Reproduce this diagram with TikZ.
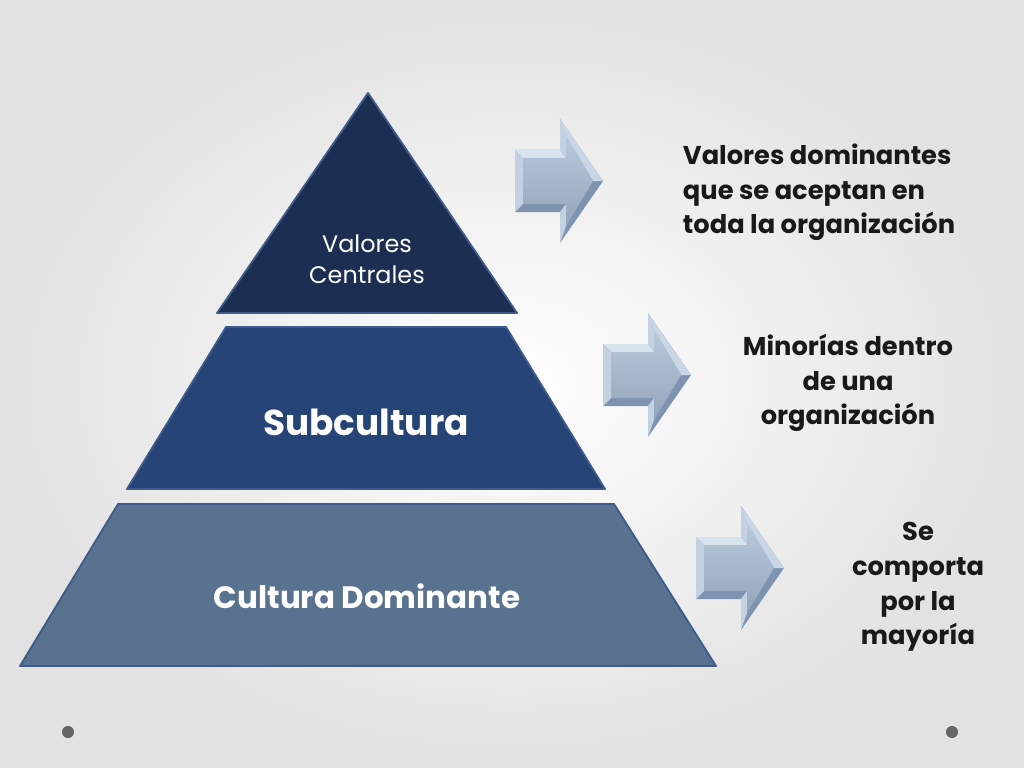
\documentclass[tikz,border=0pt]{standalone}
\usepackage{fontspec}
\setmainfont{Poppins}
\usepackage{tikz}

\definecolor{bggray}{HTML}{E2E2E2}
\definecolor{apexblue}{HTML}{1C2F52}
\definecolor{midblue}{HTML}{264476}
\definecolor{baseblue}{HTML}{58728F}
\definecolor{tierline}{HTML}{3E5B8C}
\definecolor{arrowface}{HTML}{A3B7D0}
\definecolor{arrowlight}{HTML}{D9E3EE}
\definecolor{arrowside}{HTML}{C3D1E2}
\definecolor{arrowdark}{HTML}{7D93AF}
\definecolor{dotgray}{HTML}{666666}

\begin{document}
\begin{tikzpicture}[x=0.025cm, y=-0.025cm,
	tier/.style={draw=tierline, line width=1.3pt, line join=round},
	sidetext/.style={font=\bfseries\fontsize{18.3}{24.6}\selectfont, text=black!90},
	tiertext/.style={text=white}
	]
	\useasboundingbox (0,0) rectangle (1024,768);
	\shade[inner color=white, outer color=bggray] (0,0) rectangle (1024,768);
	
	% pyramid
	\filldraw[tier, fill=apexblue] (368,93) -- (517,313) -- (217,313) -- cycle;
	\filldraw[tier, fill=midblue] (226,327) -- (506,327) -- (605,489) -- (127,489) -- cycle;
	\filldraw[tier, fill=baseblue] (118,504) -- (614,504) -- (716,666) -- (20,666) -- cycle;
	\node[tiertext, align=center, font=\fontsize{17}{22}\selectfont] (valores) at (367,259) {Valores\\Centrales};
	\node[tiertext, font=\bfseries\fontsize{25.5}{30}\selectfont] (subcultura) at (366,422) {Subcultura};
	\node[tiertext, font=\bfseries\fontsize{22}{26}\selectfont] (dominante) at (367,596) {Cultura Dominante};
	
	% bevel arrows
	\foreach \x/\y in {515/181, 603/375, 696/568}{
		\fill[arrowdark] (\x,\y-31) -- (\x+45,\y-31) -- (\x+45,\y-62) -- (\x+88,\y) -- (\x+45,\y+62) -- (\x+45,\y+31) -- (\x,\y+31) -- cycle;
		\fill[arrowlight] (\x,\y-31) -- (\x+45,\y-31) -- (\x+51,\y-23) -- (\x+8,\y-23) -- cycle;
		\fill[arrowside] (\x,\y-31) -- (\x+8,\y-23) -- (\x+8,\y+23) -- (\x,\y+31) -- cycle;
		\fill[arrowside] (\x+45,\y-31) -- (\x+45,\y-62) -- (\x+51,\y-45) -- (\x+51,\y-23) -- cycle;
		\fill[arrowside] (\x+45,\y+31) -- (\x+51,\y+23) -- (\x+51,\y+45) -- (\x+45,\y+62) -- cycle;
		\fill[arrowlight!70!arrowface] (\x+45,\y-62) -- (\x+88,\y) -- (\x+78,\y) -- (\x+51,\y-45) -- cycle;
		\shade[top color=arrowface!75!white, bottom color=arrowface!90!black] (\x+8,\y-23) -- (\x+51,\y-23) -- (\x+51,\y-45) -- (\x+78,\y) -- (\x+51,\y+45) -- (\x+51,\y+23) -- (\x+8,\y+23) -- cycle;
	}
	
	% side texts
	\node[sidetext, align=left, anchor=north west] (txtvalores) at (678,139) {Valores dominantes\\que se aceptan en\\toda la organización};
	\node[sidetext, align=center] (txtminorias) at (848,383) {Minorías dentro\\de una\\organización};
	\node[sidetext, align=center] (txtmayoria) at (918,587) {Se\\comporta\\por la\\mayoría};
	
	% slide dots
	\fill[dotgray] (68,732) circle (4.3pt);
	\fill[dotgray] (952,732) circle (4.3pt);
\end{tikzpicture}
\end{document}
